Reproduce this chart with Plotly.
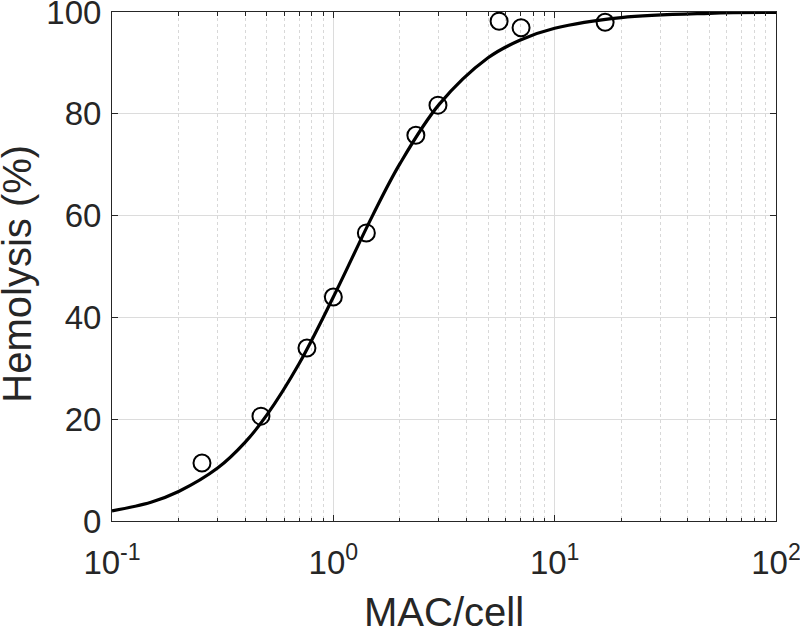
import plotly.graph_objects as go

# Measured data points
mac_per_cell = [0.255, 0.471, 0.76, 1.0, 1.41, 2.36, 2.97, 5.61, 7.05, 16.9]
hemolysis = [11.4, 20.6, 34.0, 44.0, 56.6, 75.8, 81.7, 98.2, 96.9, 98.0]

# Fitted curve
curve_x = [0.1, 0.15, 0.2, 0.3, 0.4, 0.5, 0.7, 1.0, 1.5, 2.0, 3.0, 5.0, 7.0, 10.0, 20.0, 50.0, 100.0]
curve_y = [2.0, 3.7, 5.8, 10.4, 15.5, 20.8, 30.9, 44.0, 59.9, 70.2, 81.8, 91.0, 94.5, 96.8, 98.9, 99.74, 99.91]

x_tickvals = [0.1, 1, 10, 100]
x_ticktext = ["10<sup>-1</sup>", "10<sup>0</sup>", "10<sup>1</sup>", "10<sup>2</sup>"]
x_minorvals = [m * d for d in [0.1, 1, 10] for m in range(2, 10)]
y_tickvals = [0, 20, 40, 60, 80, 100]
x_title = "MAC/cell"
y_title = "Hemolysis (%)"

FONT = "Liberation Sans, Arial, sans-serif"
INK = "#262626"

fig = go.Figure()
fig.add_trace(go.Scatter(x=curve_x, y=curve_y, mode="lines",
                         line=dict(color="black", width=3.2, shape="spline", smoothing=1.0),
                         showlegend=False, hoverinfo="skip"))
fig.add_trace(go.Scatter(x=mac_per_cell, y=hemolysis, mode="markers",
                         marker=dict(symbol="circle-open", size=17, color="black",
                                     line=dict(width=2, color="black")),
                         showlegend=False))

fig.update_layout(
    width=800, height=632,
    margin=dict(l=112, r=24, t=12, b=111),
    paper_bgcolor="white", plot_bgcolor="white",
    font=dict(family=FONT, color=INK, size=33),
)
fig.update_xaxes(
    type="log", range=[-1, 2], automargin=False,
    tickmode="array", tickvals=x_tickvals, ticktext=x_ticktext,
    tickfont=dict(size=33, color=INK), ticklabeloverflow="allow", ticklabelstandoff=12,
    ticks="inside", ticklen=6, tickcolor=INK, tickwidth=1,
    showline=True, linecolor=INK, linewidth=1, mirror="ticks",
    showgrid=True, gridcolor="#dcdcdc", gridwidth=1,
    minor=dict(tickmode="array", tickvals=x_minorvals, ticks="inside", ticklen=3.5,
               tickcolor=INK, showgrid=True, gridcolor="#d8d8d8", griddash="dot", gridwidth=1),
    zeroline=False,
)
fig.update_yaxes(
    range=[0, 100], automargin=False,
    tickmode="array", tickvals=y_tickvals,
    tickfont=dict(size=33, color=INK), ticklabeloverflow="allow", ticklabelstandoff=3,
    ticks="inside", ticklen=6, tickcolor=INK, tickwidth=1,
    showline=True, linecolor=INK, linewidth=1, mirror="ticks",
    showgrid=True, gridcolor="#dcdcdc", gridwidth=1,
    zeroline=False,
)

# axis titles placed as annotations for exact positioning
fig.add_annotation(text=x_title, xref="paper", yref="paper", x=0.5, y=-0.178,
                   xanchor="center", yanchor="middle", showarrow=False,
                   font=dict(size=40, color=INK, family=FONT))
fig.add_annotation(text=y_title, xref="paper", yref="paper", x=-0.1423, y=0.485,
                   xanchor="center", yanchor="middle", showarrow=False, textangle=-90,
                   font=dict(size=40, color=INK, family=FONT))

# remove the browser's default 8px page margin so the figure sits at the window origin
fig.write_html("out.html", config={"displayModeBar": False},
               post_script="document.body.style.margin='0px';")
